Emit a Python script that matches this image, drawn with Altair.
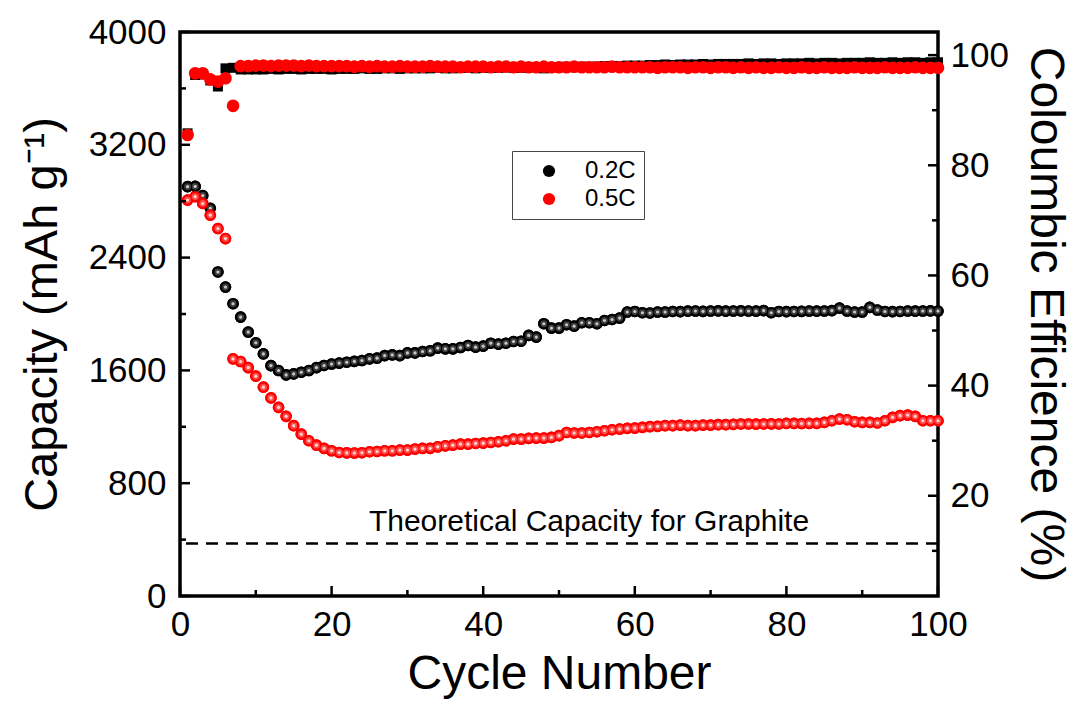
import altair as alt
import pandas as pd

# ---- data -------------------------------------------------------------
cycles = list(range(1, 101))

# specific capacity, mAh/g
cap_02c = [
    2903, 2905, 2840, 2750, 2298, 2191, 2073, 1978, 1872, 1796,
    1717, 1634, 1599, 1568, 1575, 1587, 1599, 1620, 1635, 1645,
    1652, 1658, 1664, 1670, 1682, 1687, 1705, 1710, 1705, 1724,
    1724, 1734, 1739, 1758, 1753, 1753, 1762, 1777, 1765, 1772,
    1793, 1786, 1793, 1805, 1807, 1848, 1836, 1931, 1900, 1900,
    1924, 1914, 1938, 1938, 1931, 1954, 1961, 1971, 2014, 2018,
    2009, 2007, 2014, 2014, 2018, 2017, 2020, 2021, 2019, 2021,
    2022, 2020, 2021, 2022, 2021, 2020, 2024, 2009, 2018, 2017,
    2018, 2019, 2021, 2020, 2021, 2024, 2042, 2021, 2014, 2014,
    2047, 2028, 2018, 2017, 2018, 2021, 2020, 2021, 2022, 2021,
]
cap_05c = [
    2808, 2832, 2784, 2701, 2606, 2535, 1682, 1663, 1620, 1559,
    1481, 1405, 1338, 1274, 1208, 1148, 1101, 1070, 1047, 1030,
    1018, 1015, 1014, 1016, 1023, 1025, 1030, 1030, 1035, 1035,
    1042, 1047, 1047, 1058, 1065, 1070, 1077, 1077, 1082, 1084,
    1089, 1094, 1101, 1113, 1113, 1118, 1120, 1120, 1125, 1137,
    1160, 1156, 1156, 1160, 1165, 1172, 1179, 1184, 1189, 1191,
    1196, 1201, 1203, 1208, 1208, 1212, 1208, 1208, 1212, 1212,
    1215, 1215, 1217, 1220, 1220, 1219, 1220, 1221, 1220, 1224,
    1224, 1223, 1224, 1224, 1231, 1243, 1255, 1250, 1236, 1231,
    1231, 1227, 1243, 1267, 1279, 1283, 1274, 1243, 1243, 1243,
]

# coulombic efficiency, %
ce_02c = [
    85.8, 96.4, 96.5, 95.4, 94.3, 97.6, 97.7, 97.4, 97.4, 97.4,
    97.4, 97.5, 97.4, 97.5, 97.5, 97.4, 97.5, 97.5, 97.5, 97.4,
    97.5, 97.5, 97.5, 97.6, 97.5, 97.5, 97.6, 97.6, 97.5, 97.6,
    97.6, 97.6, 97.6, 97.7, 97.6, 97.6, 97.7, 97.7, 97.6, 97.7,
    97.7, 97.7, 97.8, 97.7, 97.7, 97.8, 97.8, 97.6, 97.8, 97.8,
    97.9, 97.8, 97.9, 97.9, 97.9, 98.0, 98.0, 98.0, 98.1, 98.1,
    98.1, 98.2, 98.2, 98.3, 98.2, 98.3, 98.3, 98.3, 98.4, 98.3,
    98.4, 98.4, 98.4, 98.4, 98.5, 98.4, 98.5, 98.5, 98.4, 98.5,
    98.5, 98.5, 98.6, 98.5, 98.6, 98.6, 98.5, 98.6, 98.6, 98.6,
    98.7, 98.6, 98.6, 98.7, 98.6, 98.7, 98.7, 98.6, 98.7, 98.7,
]
ce_05c = [
    85.5, 96.7, 96.7, 95.6, 95.2, 95.8, 90.8, 98.0, 98.0, 98.1,
    98.1, 98.0, 98.1, 98.1, 98.1, 98.0, 98.1, 98.0, 98.0, 98.0,
    98.0, 98.0, 97.9, 98.0, 97.9, 98.0, 97.9, 97.9, 98.0, 97.9,
    97.9, 97.9, 98.0, 97.9, 97.9, 97.9, 97.8, 97.9, 97.9, 97.9,
    97.8, 97.9, 97.9, 97.8, 97.9, 97.8, 97.8, 97.9, 97.8, 97.8,
    97.8, 97.9, 97.8, 97.8, 97.8, 97.8, 97.9, 97.8, 97.8, 97.8,
    97.8, 97.8, 97.7, 97.8, 97.8, 97.8, 97.7, 97.8, 97.8, 97.7,
    97.8, 97.8, 97.7, 97.8, 97.7, 97.8, 97.7, 97.7, 97.8, 97.7,
    97.7, 97.8, 97.7, 97.7, 97.8, 97.7, 97.7, 97.7, 97.8, 97.7,
    97.7, 97.7, 97.8, 97.7, 97.7, 97.7, 97.8, 97.7, 97.7, 97.7,
]

series = ["0.2C", "0.5C"]
graphite_capacity = 372
graphite_label = "Theoretical Capacity for Graphite"

x_major = [0, 20, 40, 60, 80, 100]
x_minor = [10, 30, 50, 70, 90]
cap_major = [0, 800, 1600, 2400, 3200, 4000]
cap_minor = [400, 1200, 2000, 2800, 3600]
ce_major = [20, 40, 60, 80, 100]
ce_minor = [10, 30, 50, 70, 90]

# ---- tables -----------------------------------------------------------
cap_df = pd.DataFrame({
    "cycle": cycles * 2,
    "capacity": cap_02c + cap_05c,
    "series": [series[0]] * 100 + [series[1]] * 100,
})
ce_df = pd.DataFrame({
    "cycle": cycles * 2,
    "ce": ce_02c + ce_05c,
    "series": [series[0]] * 100 + [series[1]] * 100,
})

W, H = 758, 564
FONT = "Liberation Sans"
PT = 135  # sphere marker area
LABEL_SIZE = 35

x_scale = alt.Scale(domain=[0, 100], nice=False, zero=False)
cap_scale = alt.Scale(domain=[0, 4000], nice=False)
ce_scale = alt.Scale(domain=[1.8, 104.2], nice=False, zero=False)

# the x axis is shared by every layer, so layers only name the scale
x_plain = alt.X("cycle:Q", scale=x_scale)


def cap_y(field="capacity"):
    return alt.Y(f"{field}:Q", scale=cap_scale, axis=None)


def ce_y(field="ce"):
    return alt.Y(f"{field}:Q", scale=ce_scale, axis=None)


cap_base = alt.Chart(cap_df)
ce_base = alt.Chart(ce_df)

# axis carriers: bottom x + left capacity axis, and right CE axis
axis_left = cap_base.mark_point(opacity=0).encode(
    x=alt.X("cycle:Q", scale=x_scale,
            axis=alt.Axis(title="Cycle Number", values=x_major, ticks=False, domain=False,
                          grid=False, labelFontSize=LABEL_SIZE, labelPadding=11,
                          labelFlush=False, labelOverlap=False,
                          titleFontSize=48, titlePadding=8, titleFontWeight="normal")),
    y=alt.Y("capacity:Q", scale=cap_scale,
            axis=alt.Axis(title="Capacity (mAh g⁻¹)", values=cap_major, format="d",
                          ticks=False, domain=False, grid=False, labelFlush=False,
                          labelOverlap=False, labelFontSize=LABEL_SIZE, labelPadding=14,
                          titleFontSize=47, titlePadding=22, titleFontWeight="normal")),
)
axis_right = ce_base.mark_point(opacity=0).encode(
    x=x_plain,
    y=alt.Y("ce:Q", scale=ce_scale,
            axis=alt.Axis(title="Coloumbic Efficience (%)", orient="right", values=ce_major,
                          format="d", ticks=False, domain=False, grid=False,
                          labelFlush=False, labelOverlap=False,
                          labelFontSize=LABEL_SIZE, labelPadding=12,
                          titleFontSize=48, titlePadding=12, titleFontWeight="normal")),
)

# coulombic efficiency markers
ce_black = ce_base.transform_filter(alt.datum.series == "0.2C").mark_square(
    size=100, opacity=1, color="black").encode(x=x_plain, y=ce_y())
ce_red = ce_base.transform_filter(alt.datum.series == "0.5C").mark_circle(
    size=160, opacity=1, color="red").encode(x=x_plain, y=ce_y())

# capacity spheres (legend carrier + shaded layers)
cap_points = cap_base.mark_circle(size=PT, opacity=1).encode(
    x=x_plain, y=cap_y(),
    color=alt.Color("series:N", scale=alt.Scale(domain=series, range=["black", "red"]),
                    legend=alt.Legend(title=None)),
)
sphere_layers = []
for name, base_c, mid, core in [("0.2C", "black", "#3c3c3c", "#c8c8c8"),
                                ("0.5C", "red", "#ff4a4a", "#ffd4d4")]:
    sub = cap_base.transform_filter(alt.datum.series == name)
    sphere_layers.append(sub.mark_circle(size=PT, opacity=1, color=base_c).encode(x=x_plain, y=cap_y()))
    sphere_layers.append(sub.mark_circle(size=48, opacity=1, color=mid).encode(x=x_plain, y=cap_y()))
    sphere_layers.append(sub.mark_circle(size=10, opacity=1, color=core).encode(x=x_plain, y=cap_y()))

graphite = alt.Chart(pd.DataFrame({"v": [graphite_capacity]})).mark_rule(
    color="black", strokeWidth=2.5, strokeDash=[12, 8]).encode(y=cap_y("v"))
graphite_text = alt.Chart(pd.DataFrame({"v": [graphite_capacity], "t": [graphite_label]})).mark_text(
    font=FONT, fontSize=30, baseline="bottom", align="center", dy=-7, color="black").encode(
    x=alt.value(409), y=cap_y("v"), text="t:N")

# inward tick marks
x_ticks_major = alt.Chart(pd.DataFrame({"cycle": x_major})).mark_rule(
    color="black", strokeWidth=2.5).encode(x=x_plain, y=alt.value(H), y2=alt.value(H - 10))
x_ticks_minor = alt.Chart(pd.DataFrame({"cycle": x_minor})).mark_rule(
    color="black", strokeWidth=2.5).encode(x=x_plain, y=alt.value(H), y2=alt.value(H - 6))
cap_ticks_major = alt.Chart(pd.DataFrame({"v": cap_major})).mark_rule(
    color="black", strokeWidth=2.5).encode(y=cap_y("v"), x=alt.value(0), x2=alt.value(10))
cap_ticks_minor = alt.Chart(pd.DataFrame({"v": cap_minor})).mark_rule(
    color="black", strokeWidth=2.5).encode(y=cap_y("v"), x=alt.value(0), x2=alt.value(6))
ce_ticks_major = alt.Chart(pd.DataFrame({"v": ce_major})).mark_rule(
    color="black", strokeWidth=2.5).encode(y=ce_y("v"), x=alt.value(W), x2=alt.value(W - 10))
ce_ticks_minor = alt.Chart(pd.DataFrame({"v": ce_minor})).mark_rule(
    color="black", strokeWidth=2.5).encode(y=ce_y("v"), x=alt.value(W), x2=alt.value(W - 6))

chart = (
    alt.layer(
        axis_left, axis_right,
        graphite, graphite_text,
        ce_black, ce_red,
        cap_points, *sphere_layers,
        x_ticks_major, x_ticks_minor, cap_ticks_major, cap_ticks_minor,
        ce_ticks_major, ce_ticks_minor,
    )
    .resolve_scale(y="independent")
    .properties(
        width=W, height=H,
        padding={"left": 180, "top": 32, "right": 138, "bottom": 115},
        autosize=alt.AutoSizeParams(type="none"),
        background="white",
    )
    .configure_view(stroke="black", strokeWidth=3.5)
    .configure_axis(labelFont=FONT, titleFont=FONT, labelColor="black", titleColor="black")
    .configure_legend(
        orient="none", legendX=332, legendY=119,
        strokeColor="#444444", strokeWidth=1, fillColor="white",
        padding=8, rowPadding=4, symbolOffset=17, labelOffset=24,
        symbolType="circle", symbolSize=150, symbolStrokeWidth=0,
        labelFont=FONT, labelFontSize=24, labelColor="black",
    )
)

chart.save("out.html", embed_options={"renderer": "svg", "actions": False})
